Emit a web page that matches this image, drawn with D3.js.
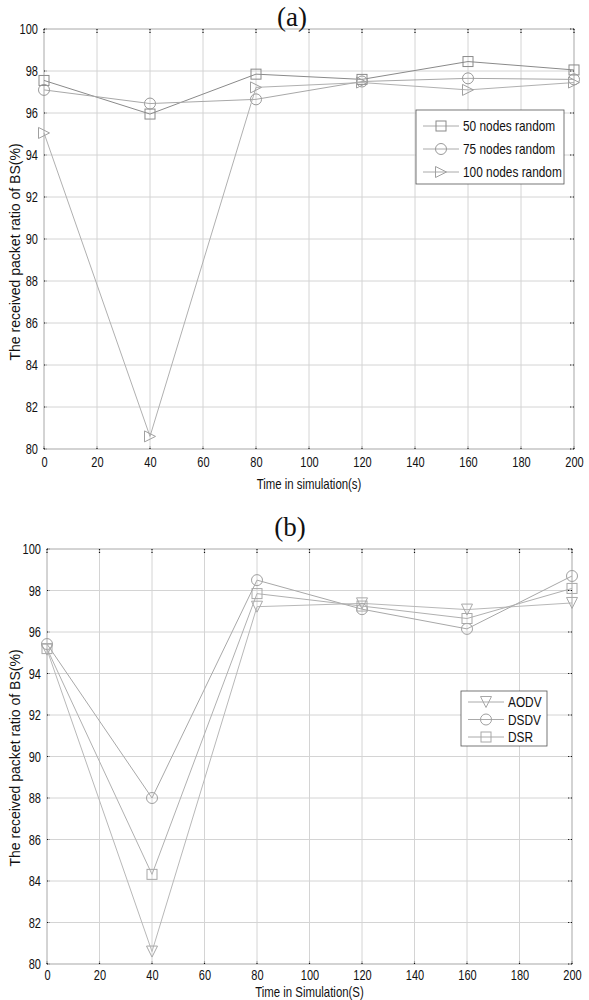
<!DOCTYPE html>
<html>
<head>
<meta charset="utf-8">
<script src="https://cdn.jsdelivr.net/npm/d3@7"></script>
<style>
  html, body { margin: 0; padding: 0; background: #fff; }
  svg { display: block; }
  .tick-label { font-family: "Liberation Sans", Arial, sans-serif; font-size: 14.5px; fill: #111; }
  .axis-title { font-family: "Liberation Sans", Arial, sans-serif; font-size: 15px; fill: #111; }
  .y-title { font-family: "Liberation Sans", Arial, sans-serif; font-size: 14px; fill: #111; }
  .panel-title { font-family: "Liberation Serif", "Times New Roman", serif; font-size: 27px; fill: #111; }
  .legend-text { font-family: "Liberation Sans", Arial, sans-serif; font-size: 15px; fill: #111; }
</style>
</head>
<body>
<svg id="chart" width="589" height="1000"></svg>
<script>
"use strict";

// ===== Data =====
const times = [0, 40, 80, 120, 160, 200];
const xTicks = [0, 20, 40, 60, 80, 100, 120, 140, 160, 180, 200];
const yTicks = [80, 82, 84, 86, 88, 90, 92, 94, 96, 98, 100];

// panel (a)
const seriesA = ["50 nodes random", "75 nodes random", "100 nodes random"];
const nodes50 = [97.55, 95.95, 97.85, 97.6, 98.45, 98.05];
const nodes75 = [97.1, 96.45, 96.65, 97.5, 97.65, 97.6];
const nodes100 = [95.05, 80.6, 97.22, 97.45, 97.1, 97.45];

// panel (b)
const seriesB = ["AODV", "DSDV", "DSR"];
const aodv = [95.15, 80.6, 97.22, 97.38, 97.08, 97.4];
const dsdv = [95.42, 88.0, 98.5, 97.1, 96.15, 98.7];
const dsr = [95.2, 84.32, 97.85, 97.25, 96.65, 98.1];

const svg = d3.select("#chart");

// ===== Marker shapes =====
function drawMarker(sel, shape, x, y, color) {
  const s = 5.5;
  if (shape === "square") {
    sel.append("rect").attr("x", x - s + 0.5).attr("y", y - s + 0.5)
      .attr("width", 2 * s - 1).attr("height", 2 * s - 1)
      .attr("fill", "none").attr("stroke", color);
  } else if (shape === "circle") {
    sel.append("circle").attr("cx", x).attr("cy", y).attr("r", s)
      .attr("fill", "none").attr("stroke", color);
  } else if (shape === "right") {
    sel.append("path")
      .attr("d", `M${x - s},${y - s}L${x + s},${y}L${x - s},${y + s}Z`)
      .attr("fill", "none").attr("stroke", color);
  } else if (shape === "down") {
    sel.append("path")
      .attr("d", `M${x - s},${y - s}L${x + s},${y - s}L${x},${y + s}Z`)
      .attr("fill", "none").attr("stroke", color);
  }
}

// ===== Panel =====
function drawPanel(cfg) {
  const { left, right, top, bottom } = cfg;
  const x = d3.scaleLinear().domain([0, 200]).range([left, right]);
  const y = d3.scaleLinear().domain([80, 100]).range([bottom, top]);
  const g = svg.append("g");

  // grid
  g.append("g").selectAll("line").data(xTicks).join("line")
    .attr("x1", d => x(d)).attr("x2", d => x(d))
    .attr("y1", top).attr("y2", bottom)
    .attr("stroke", "#d4d4d4").attr("stroke-width", 1);
  g.append("g").selectAll("line").data(yTicks).join("line")
    .attr("x1", left).attr("x2", right)
    .attr("y1", d => y(d)).attr("y2", d => y(d))
    .attr("stroke", "#d4d4d4").attr("stroke-width", 1);

  // box
  g.append("rect").attr("x", left).attr("y", top)
    .attr("width", right - left).attr("height", bottom - top)
    .attr("fill", "none").attr("stroke", "#bdbdbd");

  // axes (labels + short ticks)
  const xAxis = d3.axisBottom(x).tickValues(xTicks).tickSize(0).tickPadding(cfg.xPad);
  const yAxis = d3.axisLeft(y).tickValues(yTicks).tickSize(0).tickPadding(6);
  const gx = g.append("g").attr("transform", `translate(0,${bottom})`).call(xAxis);
  const gy = g.append("g").attr("transform", `translate(${left},0)`).call(yAxis);
  [gx, gy].forEach(a => {
    a.select(".domain").remove();
    a.selectAll("text").attr("class", "tick-label narrow").attr("font-size", null).attr("font-family", null);
  });

  // inner ticks, MATLAB style (render as dots)
  const tk = g.append("g").attr("stroke", "#111").attr("stroke-width", 1.2)
    .attr("stroke-dasharray", "1.2,1.5");
  tk.selectAll(".tt").data(xTicks).join("line")
    .attr("x1", d => x(d)).attr("x2", d => x(d))
    .attr("y1", top).attr("y2", top + 5);
  tk.selectAll(".tb").data(xTicks).join("line")
    .attr("x1", d => x(d)).attr("x2", d => x(d))
    .attr("y1", bottom).attr("y2", bottom - 3);
  tk.selectAll(".tl").data(yTicks).join("line")
    .attr("x1", left).attr("x2", left + 3)
    .attr("y1", d => y(d)).attr("y2", d => y(d));
  tk.selectAll(".tr").data(yTicks).join("line")
    .attr("x1", right).attr("x2", right - 5)
    .attr("y1", d => y(d)).attr("y2", d => y(d));

  // series
  const line = d3.line().x((d, i) => x(times[i])).y(d => y(d));
  cfg.series.forEach(s => {
    g.append("path").datum(s.values).attr("d", line)
      .attr("fill", "none").attr("stroke", s.lineColor).attr("stroke-width", 1);
    const mg = g.append("g");
    s.values.forEach((v, i) => drawMarker(mg, s.shape, x(times[i]), y(v), s.markerColor));
  });

  // legend
  const lg = cfg.legend;
  const leg = g.append("g");
  leg.append("rect").attr("x", lg.x).attr("y", lg.y)
    .attr("width", lg.w).attr("height", lg.h)
    .attr("fill", "#fff").attr("stroke", "#555").attr("stroke-width", 0.8);
  cfg.series.forEach((s, i) => {
    const cy = lg.y + lg.first + i * lg.step;
    leg.append("line").attr("x1", lg.x + 7).attr("x2", lg.x + 7 + lg.lineLen)
      .attr("y1", cy).attr("y2", cy).attr("stroke", "#aaa");
    drawMarker(leg, s.shape, lg.x + 7 + lg.lineLen / 2, cy, s.markerColor);
    leg.append("text").attr("class", "legend-text narrow")
      .attr("x", lg.x + 11 + lg.lineLen).attr("y", cy).attr("dy", "0.35em")
      .text(s.name);
  });

  // titles
  svg.append("text").attr("class", "panel-title")
    .attr("x", cfg.titleX).attr("y", cfg.titleY).attr("text-anchor", "middle")
    .text(cfg.title);
  svg.append("text").attr("class", "axis-title narrow")
    .attr("x", (left + right) / 2).attr("y", cfg.xTitleY).attr("text-anchor", "middle")
    .text(cfg.xTitle);
  svg.append("text").attr("class", "y-title")
    .attr("transform", `translate(15,${cfg.yTitleY}) rotate(-90)`)
    .attr("text-anchor", "middle").attr("dy", "0.35em")
    .text("The received packet ratio of BS(%)");
}

drawPanel({
  left: 44, right: 574, top: 29, bottom: 449,
  title: "(a)", titleX: 292, titleY: 26, xPad: 8,
  xTitle: "Time in simulation(s)", xTitleY: 489, yTitleY: 252,
  series: [
    { name: seriesA[0], values: nodes50, shape: "square", lineColor: "#8a8a8a", markerColor: "#8a8a8a" },
    { name: seriesA[1], values: nodes75, shape: "circle", lineColor: "#a8a8a8", markerColor: "#999" },
    { name: seriesA[2], values: nodes100, shape: "right", lineColor: "#b0b0b0", markerColor: "#a0a0a0" }
  ],
  legend: { x: 416, y: 110, w: 148, h: 74, first: 16, step: 23, lineLen: 36 }
});

drawPanel({
  left: 47, right: 572, top: 549, bottom: 964,
  title: "(b)", titleX: 290, titleY: 536, xPad: 6,
  xTitle: "Time in Simulation(S)", xTitleY: 997, yTitleY: 758,
  series: [
    { name: seriesB[0], values: aodv, shape: "down", lineColor: "#b8b8b8", markerColor: "#a8a8a8" },
    { name: seriesB[1], values: dsdv, shape: "circle", lineColor: "#a8a8a8", markerColor: "#a0a0a0" },
    { name: seriesB[2], values: dsr, shape: "square", lineColor: "#b0b0b0", markerColor: "#a8a8a8" }
  ],
  legend: { x: 461, y: 691, w: 86, h: 55, first: 11, step: 17.5, lineLen: 36 }
});

// condense narrow texts (no Arial Narrow offline)
const narrowRatio = { "tick-label": 0.76, "axis-title": 0.76, "legend-text": 0.79 };
svg.selectAll(".narrow").each(function () {
  const cls = this.getAttribute("class").split(" ")[0];
  const len = this.getComputedTextLength();
  d3.select(this).attr("textLength", len * narrowRatio[cls]).attr("lengthAdjust", "spacingAndGlyphs");
});
</script>
</body>
</html>
